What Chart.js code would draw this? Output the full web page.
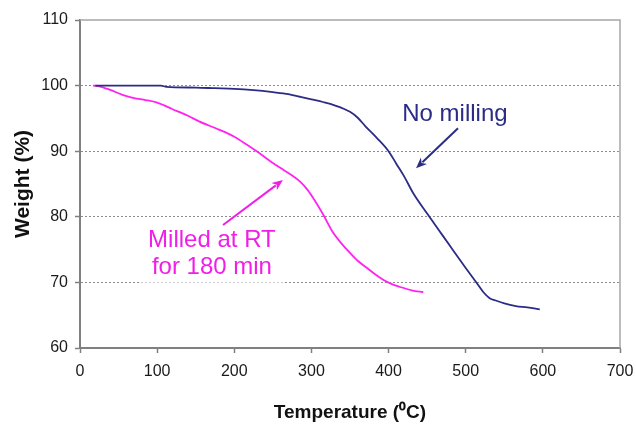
<!DOCTYPE html>
<html lang="en">
<head>
<meta charset="utf-8">
<title>Weight vs temperature</title>
<script src="https://cdn.jsdelivr.net/npm/chart.js@4.4.1/dist/chart.umd.min.js"></script>
<style>
  html, body { margin: 0; padding: 0; background: #fff; }
  #wrap { width: 636px; height: 424px; }
</style>
</head>
<body>
<div id="wrap"><canvas id="tga-chart" width="636" height="424"></canvas></div>
<script>
// ======== DONNÉES ========
const tempNoMilling = [20, 60, 105, 112, 150, 175, 200, 225, 250, 270, 285, 300, 315, 330, 350, 360, 370, 385, 400, 410, 420, 432, 450, 465, 480, 500, 515, 523, 531, 540, 550, 565, 580, 596];
const weightNoMilling = [100, 100, 100, 99.8, 99.7, 99.6, 99.5, 99.3, 99.0, 98.7, 98.3, 97.9, 97.5, 97.0, 96.0, 95.1, 93.8, 92.0, 90.0, 88.1, 86.2, 83.6, 80.5, 78.0, 75.5, 72.2, 69.8, 68.5, 67.6, 67.2, 66.8, 66.4, 66.2, 65.9];

const tempMilled = [17, 25, 40, 55, 70, 85, 100, 120, 140, 155, 180, 200, 215, 230, 250, 263, 275, 285, 295, 302, 315, 328, 340, 350, 360, 372, 383, 393, 405, 415, 430, 445];
const weightMilled = [100, 99.9, 99.3, 98.6, 98.1, 97.8, 97.4, 96.4, 95.4, 94.5, 93.3, 92.2, 91.1, 89.9, 88.2, 87.2, 86.3, 85.4, 84.1, 82.9, 80.4, 77.6, 75.8, 74.5, 73.3, 72.2, 71.2, 70.4, 69.7, 69.3, 68.8, 68.5];

const xTicks = [0, 100, 200, 300, 400, 500, 600, 700];
const yTicks = [60, 70, 80, 90, 100, 110];

// Annotations (en coordonnées de données)
const labelNoMilling = { text: ['No milling'], x: 486, y: 95.6, color: '#2B2C86' };
const arrowNoMilling = { from: [490, 93.5], to: [435.6, 87.4], color: '#2B2C86' };
const labelMilled = { text: ['Milled at RT', 'for 180 min'], x: 171, y: 74.4, color: '#F01EE6' };
const arrowMilled = { from: [185.4, 78.75], to: [263, 85.6], color: '#F01EE6' };

const BLUE = '#2B2C86';
const PINK = '#FF22F0';
const FONT = '"Liberation Sans", Arial, sans-serif';

const toPoints = (xs, ys) => xs.map((x, i) => ({ x: x, y: ys[i] }));

// ======== PLUGIN : cadre, flèches, textes ========
const annotations = {
    id: 'annotations',
    afterDatasetsDraw(chart) {
        const { ctx, chartArea, scales } = chart;
        const sx = scales.x, sy = scales.y;

        // cadre haut / droite
        ctx.save();
        ctx.strokeStyle = '#a6a6a6';
        ctx.lineWidth = 1.5;
        ctx.beginPath();
        ctx.moveTo(chartArea.left, chartArea.top);
        ctx.lineTo(chartArea.right, chartArea.top);
        ctx.lineTo(chartArea.right, chartArea.bottom);
        ctx.stroke();
        ctx.restore();

        const drawLabel = (lab, size, lineGap) => {
            ctx.save();
            ctx.font = size + 'px ' + FONT;
            ctx.textAlign = 'center';
            ctx.textBaseline = 'middle';
            const cx = sx.getPixelForValue(lab.x);
            const cy = sy.getPixelForValue(lab.y);
            const n = lab.text.length;
            const w = Math.max(...lab.text.map(t => ctx.measureText(t).width));
            const top = cy - (n * lineGap) / 2;
            ctx.fillStyle = '#fff';
            ctx.fillRect(cx - w / 2 - 9, top - 2, w + 18, n * lineGap + 4);
            ctx.fillStyle = lab.color;
            lab.text.forEach((t, i) => ctx.fillText(t, cx, top + lineGap * (i + 0.5)));
            ctx.restore();
        };

        const drawArrow = (arr) => {
            const x1 = sx.getPixelForValue(arr.from[0]), y1 = sy.getPixelForValue(arr.from[1]);
            const x2 = sx.getPixelForValue(arr.to[0]), y2 = sy.getPixelForValue(arr.to[1]);
            const a = Math.atan2(y2 - y1, x2 - x1);
            const len = 11, half = 4.5;
            ctx.save();
            ctx.strokeStyle = arr.color;
            ctx.fillStyle = arr.color;
            ctx.lineWidth = 2;
            ctx.beginPath();
            ctx.moveTo(x1, y1);
            ctx.lineTo(x2 - Math.cos(a) * len * 0.8, y2 - Math.sin(a) * len * 0.8);
            ctx.stroke();
            ctx.beginPath();
            ctx.moveTo(x2, y2);
            ctx.lineTo(x2 - Math.cos(a) * len - Math.sin(a) * half, y2 - Math.sin(a) * len + Math.cos(a) * half);
            ctx.lineTo(x2 - Math.cos(a) * len * 0.7, y2 - Math.sin(a) * len * 0.7);
            ctx.lineTo(x2 - Math.cos(a) * len + Math.sin(a) * half, y2 - Math.sin(a) * len - Math.cos(a) * half);
            ctx.closePath();
            ctx.fill();
            ctx.restore();
        };

        drawLabel(labelNoMilling, 24, 27);
        drawLabel(labelMilled, 24, 27);
        drawArrow(arrowNoMilling);
        drawArrow(arrowMilled);
    }
};

// ======== GRAPHIQUE ========
const ctx = document.getElementById('tga-chart');

new Chart(ctx, {
    type: 'line',
    data: {
        datasets: [
            {
                label: 'No milling',
                data: toPoints(tempNoMilling, weightNoMilling),
                borderColor: BLUE,
                borderWidth: 1.8,
                pointRadius: 0,
                cubicInterpolationMode: 'monotone',
                fill: false
            },
            {
                label: 'Milled at RT for 180 min',
                data: toPoints(tempMilled, weightMilled),
                borderColor: PINK,
                borderWidth: 1.8,
                pointRadius: 0,
                cubicInterpolationMode: 'monotone',
                fill: false
            }
        ]
    },
    options: {
        responsive: false,
        animation: false,
        layout: { padding: { left: 0, top: 20, right: 16, bottom: 0 } },
        plugins: {
            legend: { display: false },
            tooltip: { enabled: false }
        },
        scales: {
            x: {
                type: 'linear',
                min: 0,
                max: 700,
                afterBuildTicks: (scale) => { scale.ticks = xTicks.map(v => ({ value: v })); },
                afterFit: (scale) => {
                    scale.height = 76;
                    scale.paddingLeft = 0;
                    scale.paddingRight = 0;
                },
                ticks: {
                    color: '#1a1a1a',
                    font: { family: FONT, size: 16 },
                    padding: 9,
                    maxRotation: 0
                },
                grid: {
                    drawOnChartArea: false,
                    drawTicks: true,
                    tickLength: 5,
                    tickColor: '#808080',
                    tickWidth: 1.5
                },
                border: { color: '#808080', width: 2 },
                title: {
                    display: true,
                    text: 'Temperature (\u2070C)',
                    color: '#111',
                    font: { family: FONT, size: 19, weight: 'bold' },
                    padding: { top: 0, bottom: 0 }
                }
            },
            y: {
                type: 'linear',
                min: 60,
                max: 110,
                afterBuildTicks: (scale) => { scale.ticks = yTicks.map(v => ({ value: v })); },
                afterFit: (scale) => { scale.width = 80; },
                ticks: {
                    color: '#1a1a1a',
                    font: { family: FONT, size: 16 },
                    padding: 7
                },
                grid: {
                    color: (c) => (c.tick && (c.tick.value === 60 || c.tick.value === 110)) ? 'rgba(0,0,0,0)' : '#8c8c8c',
                    lineWidth: 1,
                    drawTicks: true,
                    tickLength: 5,
                    tickColor: '#808080',
                    tickWidth: 1.5,
                    tickBorderDash: []
                },
                border: { color: '#808080', width: 2, dash: [2, 2] },
                title: {
                    display: true,
                    text: 'Weight (%)',
                    color: '#111',
                    font: { family: FONT, size: 21, weight: 'bold' },
                    padding: { top: 11, bottom: 0 }
                }
            }
        }
    },
    plugins: [annotations]
});
</script>
</body>
</html>
